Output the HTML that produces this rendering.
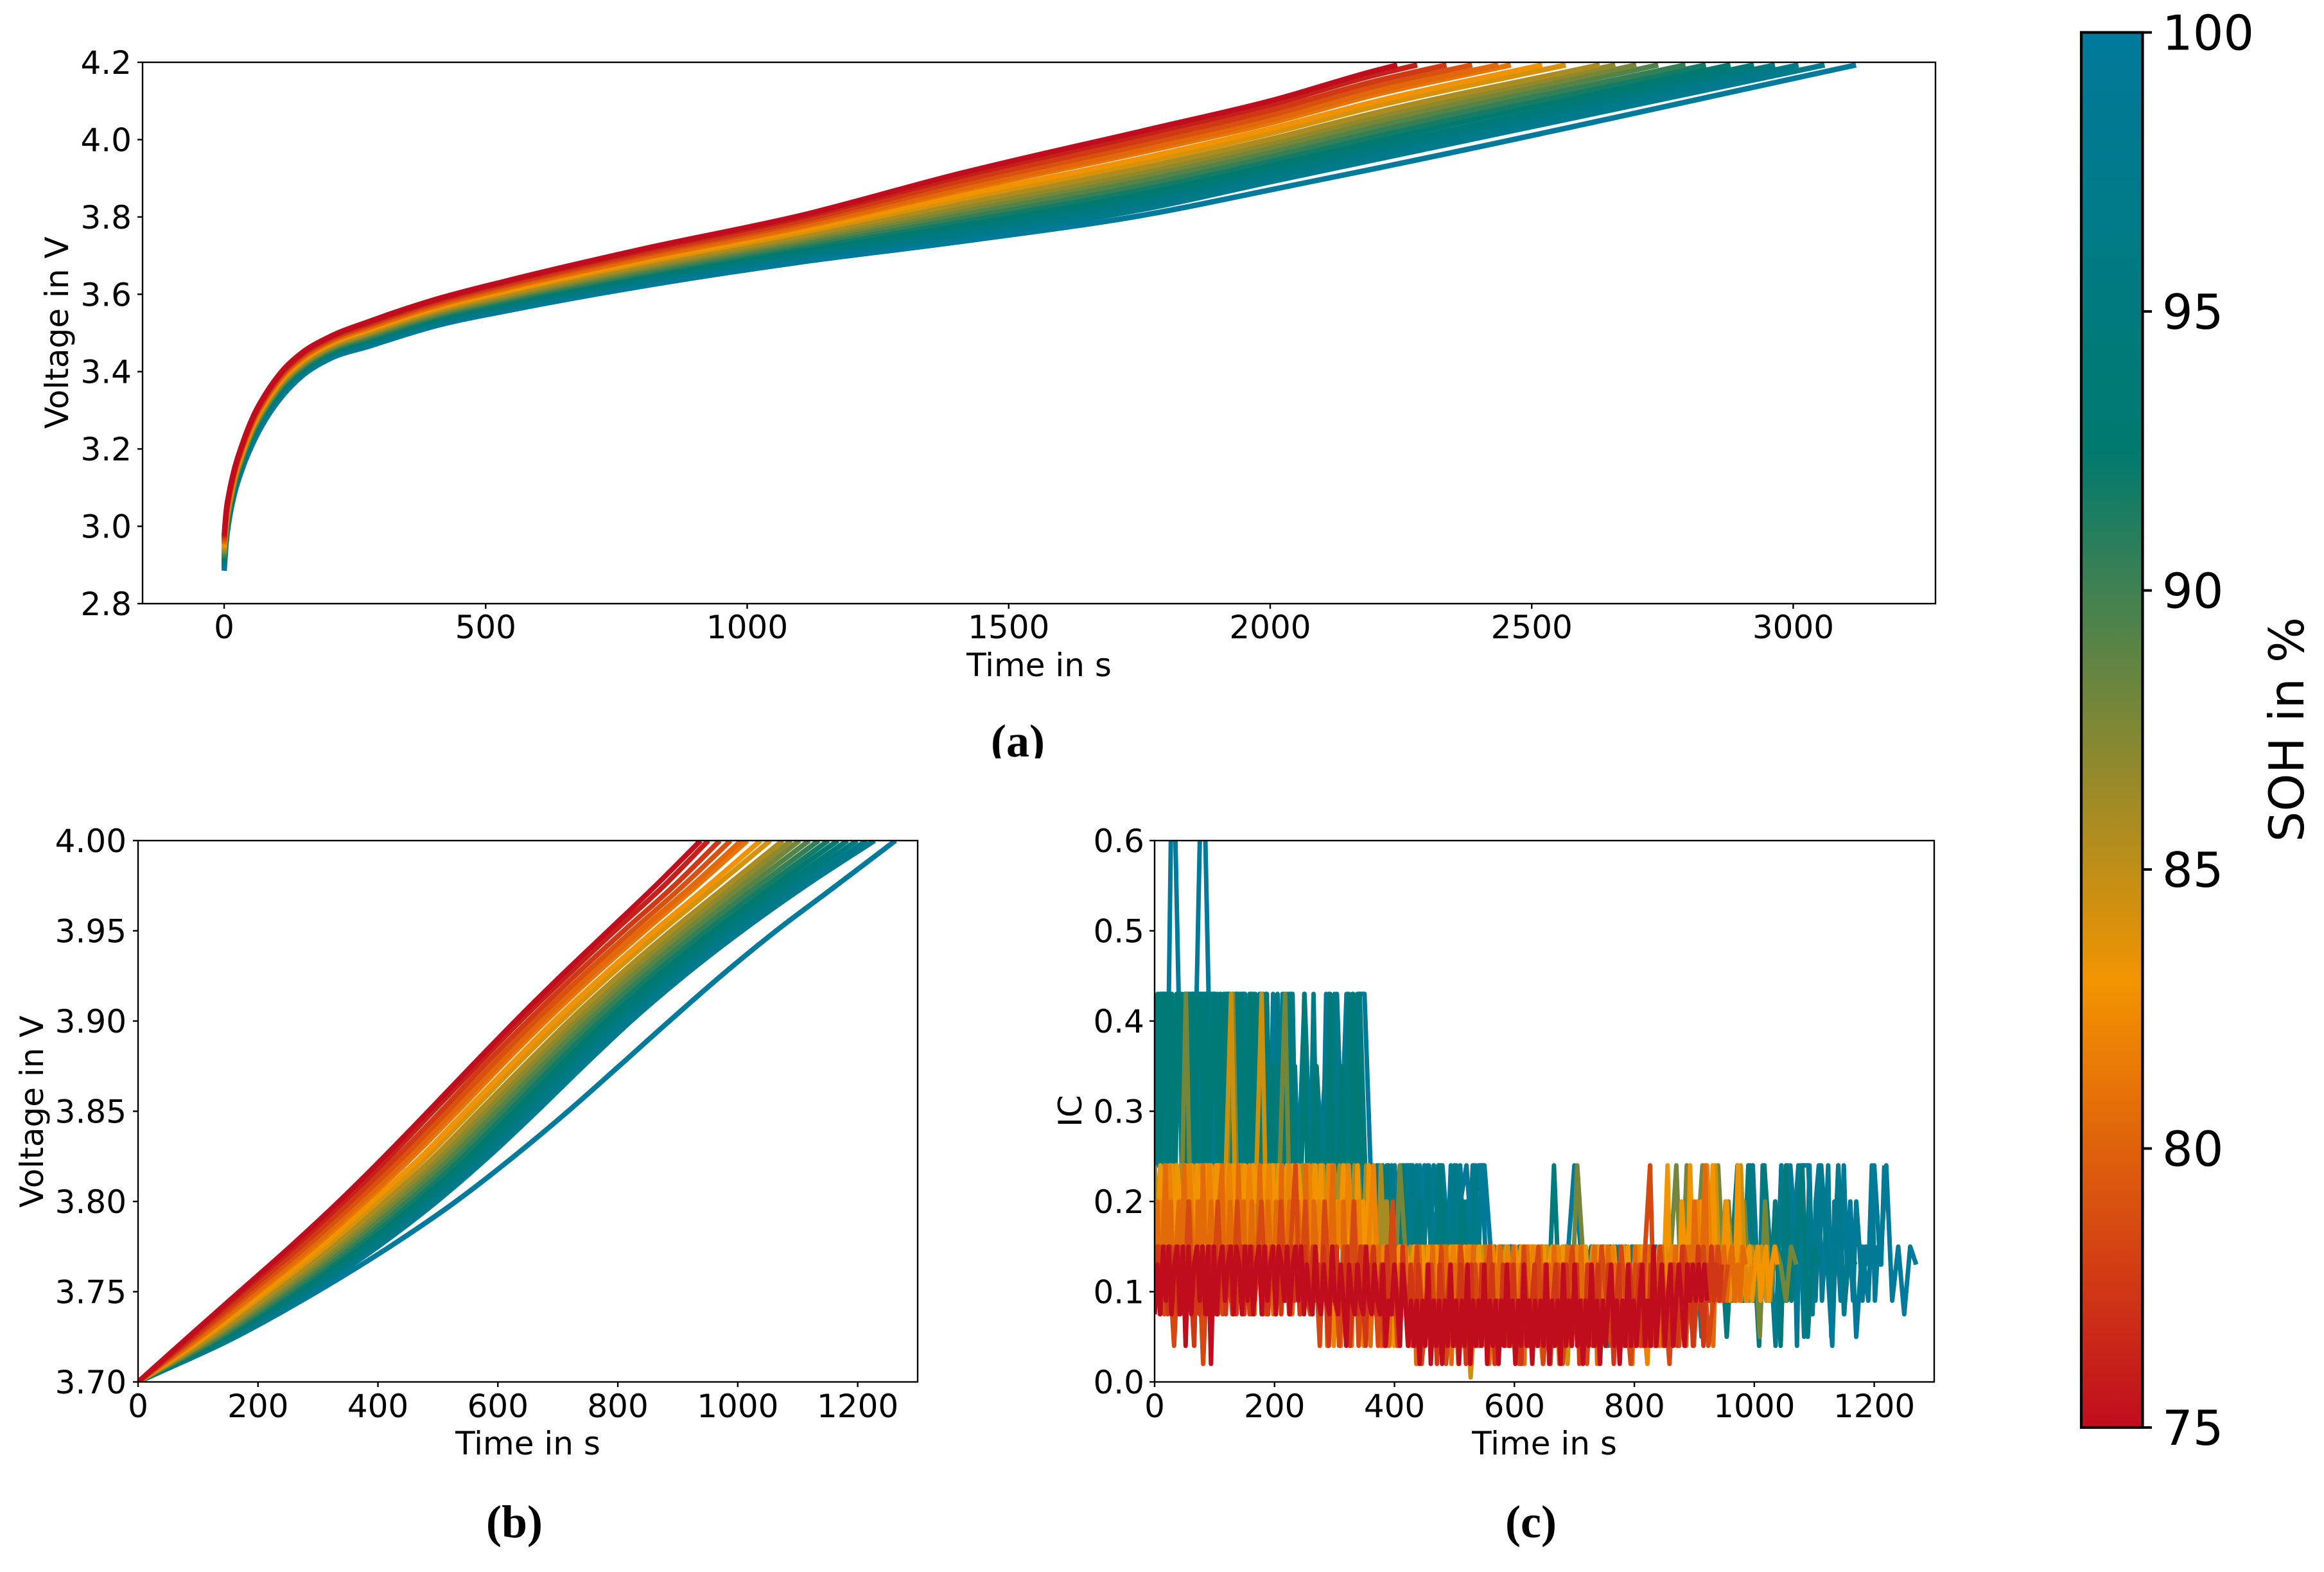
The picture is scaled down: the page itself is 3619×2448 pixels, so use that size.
<!DOCTYPE html>
<html lang="en">
<head>
<meta charset="utf-8">
<title>SOH voltage and IC curves</title>
<style>
html,body{margin:0;padding:0;background:#fff;}
svg{display:block;}
text{font-family:"DejaVu Sans",sans-serif;fill:#000;}
.cap{font-family:"Liberation Serif",serif;font-weight:bold;font-size:72px;text-anchor:middle;}
.axl{font-size:50px;text-anchor:middle;}
.frame{fill:none;stroke:#000;stroke-width:2.4;}
</style>
</head>
<body>
<svg xmlns="http://www.w3.org/2000/svg" width="3619" height="2448" viewBox="0 0 3619 2448">
  <defs>
    <clipPath id="clipA"><rect x="222" y="97" width="2792" height="843"/></clipPath>
    <clipPath id="clipB"><rect x="215" y="1309" width="1214" height="843"/></clipPath>
    <clipPath id="clipC"><rect x="1798" y="1309" width="1214" height="843"/></clipPath>
    <clipPath id="clipCaption"><rect x="1500" y="1100" width="200" height="81"/></clipPath>
    <linearGradient id="cbarGradient" x1="0" y1="1" x2="0" y2="0"></linearGradient>
  </defs>
  <rect width="3619" height="2448" fill="#fff"/>

  <g id="panelA">
    <g id="curvesA" clip-path="url(#clipA)"></g>
    <g id="ticksA"></g>
    <rect class="frame" x="222" y="97" width="2792" height="843"/>
    <text class="axl" x="1618" y="1053">Time in s</text>
    <text class="axl" transform="translate(106,518) rotate(-90)">Voltage in V</text>
    <text class="cap" x="1585" y="1178" clip-path="url(#clipCaption)">(a)</text>
  </g>

  <g id="panelB">
    <g id="curvesB" clip-path="url(#clipB)"></g>
    <g id="ticksB"></g>
    <rect class="frame" x="215" y="1309" width="1214" height="843"/>
    <text class="axl" x="822" y="2265">Time in s</text>
    <text class="axl" transform="translate(67,1731) rotate(-90)">Voltage in V</text>
    <text class="cap" x="801" y="2394">(b)</text>
  </g>

  <g id="panelC">
    <g id="curvesC" clip-path="url(#clipC)"></g>
    <g id="ticksC"></g>
    <rect class="frame" x="1798" y="1309" width="1214" height="843"/>
    <text class="axl" x="2405" y="2265">Time in s</text>
    <text class="axl" transform="translate(1684,1730) rotate(-90)">IC</text>
    <text class="cap" x="2384" y="2394">(c)</text>
  </g>

  <g id="colorbar">
    <rect x="3241" y="50.5" width="95.5" height="2172.5" fill="url(#cbarGradient)" stroke="#000" stroke-width="4.2"/>
    <g id="ticksBar"></g>
    <text transform="translate(3587,1136) rotate(-90)" font-size="75" text-anchor="middle">SOH in %</text>
  </g>
</svg>

<script>
// ---------- Colour scale ----------
const cmapSoh = [75, 83, 92.5, 100];
const cmapRgb = [[192,13,30],[242,148,0],[0,122,110],[0,122,155]];

// ---------- Shared series ----------
const sohValues = [75,76.1,77.6,79,80.4,81.2,82.9,84.1,85.8,86.9,88,89.3,90.5,91.8,93,94.3,95.5,96.8,97.8,100];

// ---------- Panel (a) ----------
const xTicksA = ['0','500','1000','1500','2000','2500','3000'];
const yTicksA = ['2.8','3.0','3.2','3.4','3.6','3.8','4.0','4.2'];
const timeGridA = [0,4,10,20,35,55,80,110,150,200,280,400,550,800,1100,1400,1780,2000,2200];
const endTimesA = [2243,2281,2337,2386,2436,2460,2520,2565,2630,2660,2700,2742,2794,2833,2880,2925,2965,3010,3060,3120];
const endVoltageA = 4.193;
const voltagesA = [
[2.975,3.04,3.09,3.15,3.214,3.283,3.344,3.40,3.45,3.489,3.531,3.585,3.638,3.717,3.803,3.91,4.03,4.10,4.178],
[2.971,3.037,3.087,3.147,3.212,3.28,3.341,3.397,3.447,3.487,3.528,3.582,3.635,3.713,3.798,3.902,4.02,4.09,4.167],
[2.966,3.032,3.083,3.144,3.208,3.277,3.338,3.394,3.444,3.483,3.524,3.578,3.63,3.707,3.79,3.891,4.006,4.076,4.151],
[2.961,3.027,3.079,3.14,3.205,3.273,3.334,3.39,3.44,3.48,3.521,3.574,3.626,3.702,3.784,3.881,3.994,4.063,4.138],
[2.956,3.023,3.075,3.137,3.202,3.27,3.331,3.387,3.437,3.477,3.517,3.57,3.621,3.696,3.777,3.871,3.982,4.051,4.124],
[2.953,3.02,3.073,3.135,3.2,3.268,3.329,3.385,3.435,3.475,3.515,3.568,3.619,3.693,3.773,3.866,3.975,4.043,4.116],
[2.947,3.015,3.068,3.131,3.196,3.264,3.325,3.381,3.431,3.471,3.511,3.564,3.613,3.687,3.765,3.853,3.959,4.028,4.098],
[2.942,3.011,3.064,3.128,3.193,3.261,3.322,3.378,3.428,3.469,3.508,3.56,3.61,3.682,3.759,3.844,3.948,4.016,4.086],
[2.936,3.006,3.06,3.124,3.189,3.257,3.318,3.374,3.424,3.465,3.503,3.556,3.604,3.676,3.751,3.833,3.934,4.001,4.069],
[2.932,3.002,3.057,3.121,3.186,3.254,3.315,3.371,3.421,3.462,3.501,3.553,3.601,3.671,3.746,3.824,3.924,3.991,4.058],
[2.928,2.998,3.054,3.119,3.184,3.252,3.313,3.369,3.419,3.46,3.498,3.55,3.597,3.667,3.741,3.816,3.914,3.98,4.046],
[2.924,2.994,3.05,3.116,3.181,3.249,3.31,3.366,3.416,3.457,3.495,3.546,3.594,3.662,3.735,3.807,3.902,3.969,4.034],
[2.919,2.99,3.047,3.113,3.178,3.246,3.307,3.363,3.413,3.454,3.491,3.543,3.59,3.657,3.729,3.798,3.891,3.957,4.021],
[2.915,2.986,3.043,3.11,3.175,3.243,3.304,3.36,3.41,3.451,3.488,3.539,3.586,3.653,3.723,3.789,3.88,3.946,4.008],
[2.91,2.982,3.04,3.107,3.172,3.24,3.301,3.357,3.407,3.449,3.485,3.536,3.582,3.648,3.717,3.78,3.869,3.934,3.996],
[2.906,2.978,3.036,3.104,3.169,3.237,3.298,3.354,3.404,3.446,3.482,3.533,3.578,3.643,3.711,3.771,3.858,3.923,3.983],
[2.901,2.974,3.033,3.101,3.166,3.234,3.295,3.351,3.401,3.443,3.479,3.529,3.574,3.638,3.705,3.762,3.846,3.911,3.971],
[2.897,2.97,3.029,3.098,3.164,3.231,3.292,3.348,3.398,3.44,3.475,3.526,3.57,3.633,3.699,3.753,3.835,3.9,3.958],
[2.893,2.967,3.026,3.095,3.161,3.228,3.289,3.345,3.395,3.438,3.473,3.523,3.567,3.63,3.694,3.746,3.826,3.891,3.948],
[2.885,2.96,3.02,3.085,3.15,3.215,3.278,3.335,3.39,3.432,3.467,3.517,3.56,3.621,3.683,3.735,3.81,3.87,3.925]
];

// ---------- Panel (b) ----------
const xTicksB = ['0','200','400','600','800','1000','1200'];
const yTicksB = ['3.70','3.75','3.80','3.85','3.90','3.95','4.00'];
const voltageLevelsB = [3.70,3.725,3.75,3.775,3.80,3.825,3.85,3.875,3.90,3.925,3.95,3.975,4.00];
const timesB = [
[0,84,169,254,335,411,484,556,629,705,784,863,938],
[0,88,174,261,343,420,492,564,637,715,795,877,951],
[0,93,182,271,354,432,505,576,650,728,810,894,970],
[0,97,189,280,364,443,516,588,662,741,824,909,988],
[0,102,196,288,373,453,526,599,673,753,837,924,1006],
[0,105,201,294,379,459,533,605,680,760,845,932,1016],
[0,110,210,305,391,473,546,619,694,775,861,951,1038],
[0,114,216,313,400,482,556,629,705,786,873,964,1054],
[0,120,225,323,412,495,569,643,719,801,889,982,1075],
[0,124,231,330,420,503,578,652,728,811,900,994,1089],
[0,127,237,337,428,512,587,661,738,821,911,1007,1103],
[0,132,243,345,437,522,597,671,748,832,923,1020,1119],
[0,136,250,353,446,531,607,681,759,843,935,1034,1135],
[0,140,256,361,455,541,616,691,769,854,947,1048,1151],
[0,144,263,369,464,550,626,701,780,866,959,1061,1167],
[0,148,270,378,473,560,636,712,790,877,971,1075,1183],
[0,152,276,386,482,570,646,722,801,888,983,1088,1199],
[0,157,283,394,491,579,656,732,812,899,995,1102,1215],
[0,160,288,400,498,585,665,742,822,910,1007,1113,1228],
[0,163,298,420,530,627,717,802,886,972,1064,1164,1263]
];

// ---------- Panel (c) ----------
const xTicksC = ['0','200','400','600','800','1000','1200'];
const yTicksC = ['0.0','0.1','0.2','0.3','0.4','0.5','0.6'];
const icSoh = [100,99,97.5,96.5,95,94,88,86,84.5,83,82,80.5,78.5,77.5,75];
const icStepSeconds = [10,5.2,9.5,5,9,4.8,8.7,4.9,8.5,4.7,8.3,4.5,8.1,4.4,4.7];
const icValues100 = [.35,.43,.24,.75,.43,.24,.43,.43,.75,.43,.24,.43,.24,.43,.35,.24,.43,.24,.43,.24,.35,.24,.43,.15,.24,.43,.24,.35,.24,.43,.15,.24,.43,.24,.43,.43,
.24,.15,.24,.2,.24,.15,.24,.24,.15,.24,.2,.15,.24,.15,.24,.2,.24,.15,.24,.24,
.15,.13,.09,.15,.09,.15,.13,.09,.15,.09,.13,.15,.09,.15,.24,.15,.09,.15,.13,.09,
.15,.09,.15,.13,.09,.15,.09,.15,.13,.09,.15,.09,.15,.13,.09,.15,.13,.09,.15,.09,.15,.13,.09,.15,.09,.15,.09,.13,.15,.09,.24,.15,.24,
.24,.09,.24,.15,.04,.24,.075,.2,.05,.15,.09,.24,.13,.24,.09,.15,.075,.15,.13];
const icValues99 = [.24,.43,.24,.43,.35,.43,.24,.43,.43,.24,.35,.43,.24,.43,.24,.43,.43,.24,.43,.35,.24,.43,.24,.43,.24,.43,.35,.24,.43,.43,.24,.43,.24,.35,.43,.24,.43,.24,.43,.35,.24,.43,.24,.43,
.24,.35,.24,.24,.43,.24,.24,.35,.24,.15,.24,.43,.24,.2,.24,.35,.24,.24,.43,.24,.24,.43,.24,
.2,.24,.15,.24,.15,.24,.2,.15,.24,.15,.24,.15,.2,.24,.15,.24,.15,.15,.24,.15,.2,.24,.15,.15,.24,.15,.2,.15,.24,.15,.15,.24,.15,.2,.15,.24,.15,.15,.24,.15,
.15,.13,.15,.09,.15,.13,.09,.15,.15,.09,.13,.15,.09,.15,.13,.15,.09,.15,.13,.09,.15,.09,.15,.13,.15,.09,.15,.13,.09,.15,.15,.09,.13,.15,.09,.15,.13,.15,.09,.15,.13,.09,.15,.09,.15,.13,.15,.09,.15,.13,.09,.15,.15,.09,.13,.15,.09,.15,.13,.15,.09,.15,.13,.09,.15,.09,.15,.13,.15,.09,.15,.13,.09,.15,.15,.09,.13,.15,.09,.15,.13,.15,.09,.15,.24,.09,.15,.09,.24,.13,.15,.09,.2,.15,
.24,.09,.24,.15,.2,.04,.24,.15,.09,.24,.075,.2,.24,.09,.15,.24,.05,.2,.15,.09,.24,.13,.15,.09,.2,.15,.09,.15,.13,.24,.09,.15,.13,.24];
const icValues97 = [.43,.24,.43,.24,.43,.24,.43,.35,.24,.43,.24,.43,.24,.43,.24,.43,.24,.35,.24,.43,.24,.35,.15,.24,.43,.24,.35,.24,.15,.24,.35,.24,.43,.24,.35,.24,.15,
.24,.15,.24,.15,.24,.2,.09,.24,.15,.24,.15,.09,.24,.15,.2,.09,.24,.15,.09,.24,.15,.09,
.15,.09,.15,.09,.13,.15,.09,.15,.05,.15,.09,.15,.09,.13,.15,.09,.15,.05,.15,.09,.15,.09,.15,.09,.13,.15,.05,.15,.09,.15,.09,.15,.09,.13,.15,.09,.15,.05,.15,.09,.15,.09,.15,.09,.13,.15,
.24,.09,.24,.15,.04,.24,.09,.15,.24,.05,.2,.09,.24,.15,.09,.24,.075,.15,.13];
const icValues95 = [.43,.24,.43,.43,.24,.43,.35,.24,.43,.24,.43,.43,.24,.43,.35,.43,.24,.43,.24,.43,.43,.24,.35,.43,.24,.43,.24,.43,.43,.24,.43,.35,.24,.43,.24,.43,.24,.43,.24,.35,
.24,.43,.24,.24,.35,.24,.43,.24,.15,.24,.35,.24,.24,.43,.24,.2,.24,.35,.24,.24,.43,.24,.15,.24,.35,.24,.43,.24,.43,.24,
.24,.15,.2,.24,.09,.15,.24,.2,.15,.24,.15,.09,.24,.15,.2,.15,.24,.09,.15,.2,.15,.24,.15,.09,.15,.24,.15,.2,.09,.15,.24,.15,.09,.2,.15,.09,.15,.24,.15,.09,.15,.09];
const icValues93 = [.24,.43,.24,.43,.35,.43,.24,.43,.24,.35,.24,.43,.24,.43,.24,.43,.35,.24,.43,.24,.43,.15,.24,.35,.24,.43,.15,.24,.2,.24,.35,.15,.24,.2,.15,.24,.43,.24,.43,
.24,.15,.2,.15,.24,.09,.15,.24,.09,.15,.2,.09,.15,.09,.24,.09,.15,.09,.2,.09,.15,.09,
.15,.09,.13,.15,.09,.15,.09,.15,.04,.15,.09,.15,.09,.24,.09,.15,.05,.15,.09,.13,.15,.09,.15,.04,.15,.09,.15,.09,.13,.15,.04,.15,.09,.15,.09,.15,.05,.15,.09,.15,.09,.13,.15,.09,.15,.05,.15,
.24,.09,.24,.15,.04,.24,.09,.2,.04,.24,.09,.15,.24,.05,.15,.13];
const icValues91 = [.24,.43,.24,.43,.43,.24,.43,.24,.43,.35,.24,.43,.24,.43,.24,.43,.43,.24,.43,.24,.35,.43,.24,.43,.24,.43,.43,.24,.43,.24,.43,.35,.24,.43,.24,.43,.24,.35,.24,.43,.24,.35,.24,.15,.24,.43,.24,.24,.35,.24,.15,.24,.43,.24,.2,.24,.35,.24,.24,.15,.24,.43,.24,.2,.24,.35,.24,.15,.24,.43,.24,.35,.24];
const icValues88 = [.24,.15,.24,.2,.24,.15,.43,.15,.24,.15,.24,.2,.24,.15,.24,.43,.15,.24,.2,.24,.15,.24,.15,.2,.24,.43,.15,.24,.15,.24,.2,.15,.24,.15,.24,.2,.15,.24,.15,.24,
.15,.24,.15,.09,.2,.15,.09,.24,.15,.09,.15,.09,.15,.09,.15,.04,.15,.09,.15,.09,.15,.05,.15,.09,
.15,.09,.13,.15,.09,.15,.04,.15,.09,.15,.09,.15,.09,.15,.02,.15,.09,.24,.15,.09,.15,.04,.15,.09,.15,.09,.15,.09,.13,.15,.05,.15,.09,.15,.09,.15,.24,.09,.24,.09,.15,.24,
.09,.15,.24,.13,.2,.09,.15,.2,.09,.15,.05,.2,.09,.15,.13,.09,.15,.13];
const icValues86 = [.24,.15,.24,.2,.15,.24,.2,.24,.15,.24,.24,.15,.2,.24,.15,.24,.2,.15,.24,.24,.15,.24,.2,.15,.24,.15,.24,.2,.24,.15,.24,.15,.2,.24,.24,.15,.24,.2,.15,.24,.15,.24,.24,.2,.15,.24,.15,.2,.24,.15,.24,.24,.15,.2,.24,.15,.24,.2,.15,.24,.15,.24,.2,.24,.15,.24,.2,.15,.24,.15,.2,
.15,.24,.09,.2,.15,.09,.24,.15,.2,.09,.15,.13,.09,.15,.09,.13,.15,.09,.15,.13,.09,.15,.09,.15,.13,.09,.15,.09,.15,.04,.13,.15,.09,.15,.09,.13,.15,.09,.15,.09,.13,.15,.09];
const icValues84 = [.2,.15,.24,.15,.24,.2,.15,.24,.15,.24,.2,.15,.24,.15,.24,.43,.15,.24,.2,.15,.24,.43,.15,.24,.15,.24,.2,.15,.24,.15,.2,.24,.15,.24,.09,.2,.15,.24,.15,.09,.2,.15,
.13,.2,.09,.15,.04,.13,.15,.09,.13,.15,.05,.13,.09,.15,.09,.13,.04,.15,.09,.13,.005,.09,.15,.04,
.15,.09,.13,.15,.04,.13,.15,.09,.15,.09,.13,.15,.09,.13,.15,.02,.15,.09,.15,.09,.13,.15,.09,.13,.15,.09,.15,.04,.13,.15,.09,.15,.09,.13,.15,.04,.15,.09,.13,.15,.09,.15,.13,.09,
.24,.09,.2,.15,.09,.24,.09,.15,.13,.15,.09,.13];
const icValues83 = [.2,.15,.24,.15,.24,.2,.24,.15,.24,.2,.15,.24,.2,.24,.13,.24,.2,.15,.24,.2,.24,.15,.24,.24,.15,.2,.24,.13,.24,.2,.24,.15,.24,.2,.15,.24,.2,.24,.15,.24,.15,.2,.24,.13,.24,.2,.15,.24,.2,.24,.15,.24,.2,.15,.24,.09,.2,.24,.15,.24,.13,.2,.15,.24,.09,.2,.15,.24,.13,.2,.15,.09,.24,.15,.2,.09,.24,.15,.09,
.15,.09,.13,.15,.09,.15,.04,.13,.15,.09,.15,.13,.09,.15,.09,.13,.15,.05,.15,.09,.13,.15,.09,.15,.13,.09,.15,.04,.15,.09,.13,.15,.09,.15,.13,.09,.15,.09,.13,.15,.04,.15,.09,.15,.13,.09,.15,.09,.13,.15,.09,.15,.04,.13,.15,.09,.15,.13,.09,.15,.09,.13,.15,.09,.15,.02,.15,.09,.13,.15,.09,.15,.13,.09,.15,.09,.13,.15,.04,.15,.09,.15,.13,.09,.15,.09,.13,.15,.09,.15,.04,.13,.15,.09,.15,.13,.09,.15,.09,.13,.15,.09,.15,.24,.09,.15,.13,.09,.2,.15,.09,.24,.13,.15,.09,.2,.15,.13,.09,.24,.15,.09,.13,.15,.2,.09,.15,.13,.24,.09,.15,.13,.15,.09,.13,.15,.09,.13,.15,.09,.13,.15,.13];
const icValues81 = [.13,.2,.13,.24,.09,.2,.15,.24,.13,.2,.09,.24,.13,.2,.15,.24,.13,.2,.09,.24,.13,.2,.15,.24,.09,.2,.13,.24,.15,.2,.09,.24,.13,.2,.09,.24,.04,.2,.13,.24,.09,.2,.04,.15,
.24,.09,.15,.04,.13,.09,.15,.04,.13,.15,.04,.09,.15,.04,.13,.09,.15,.02,.09,.15,.04,.13,.09,.04,
.15,.04,.09,.15,.04,.13,.09,.04,.15,.09,.02,.13,.04,.15,.09,.04,.13,.15,.02,.09,.15,.04,.13,.09,.15,.04,.09,.13,.04,.15,.09,.02,.15,.09,.04,.13,.15,.04,.09,.15,
.09,.2,.09,.24,.09,.15,.09,.13,.15,.09,.15,.09,.13];
const icValues79 = [.13,.2,.09,.15,.24,.13,.2,.075,.15,.2,.13,.24,.09,.2,.15,.075,.2,.13,.24,.09,.15,.2,.075,.13,.2,.24,.09,.15,.2,.13,.075,.24,.15,.2,.09,.13,.2,.075,.15,.24,.13,.09,.2,.15,.075,.2,.13,.24,.09,.15,.2,.075,.13,.2,.15,.09,.24,.13,.075,.2,.15,.09,.13,.2,.04,.15,.24,.09,.13,.04,.2,.09,.15,.04,.2,.13,.09,.15,
.09,.15,.04,.13,.09,.15,.04,.09,.13,.04,.15,.09,.04,.13,.09,.15,.04,.09,.13,.02,.15,.09,.04,.13,.09,.15,.04,.09,.13,.04,.15,.09,.02,.13,.09,.15,.04,.09,.13,.04,.15,.09,.04,.13,.09,.15,.02,.09,.13,.04,.15,.09,.04,.13,.09,.15,.04,.09,.13,.02,.15,.09,.04,.13,.09,.15,.04,.09,.13,.04,.15,.09,.02,.13,.09,.15,.04,.09,.13,.04,.15,.09,.04,.13,.09,.15,.02,.09,.13,.04,.15,.09,.04,.13,.09,.15,.04,.09,.13,.02,.15,.09,.04,.13,.09,.15,.04,.09,.13,.04,.15,.09,.04,.13,.09,.15,.04,.09,.13,.04,.15,.09,.2,.13,.09,.15,.24,.09,.13,.04,.15,.09,.13,.15,.09,.13,.15,.09,.13,.09,.15,.13];
const icValues77 = [.075,.15,.075,.13,.04,.15,.075,.2,.075,.15,.02,.15,.09,.2,.075,.15,.075,.2,.075,.15,.075,.13,.2,.075,.15,.075,.2,.09,.15,.24,.075,.2,
.075,.15,.04,.2,.09,.15,.04,.15,.075,.2,.04,.15,.09,.15,.04,.13,.09,.2,.04,.13,
.09,.04,.15,.02,.09,.13,.04,.15,.02,.09,.04,.15,.09,.02,.13,.04,.09,.15,.02,.09,.04,.13,.09,.02,.15,.04,.09,.15,.02,.09,.04,.13,.02,.09,.15,.04,.09,.02,.13,.04,.15,.09,.04,.04,.15,.09,.02,.13,.04,.15,.24,.04,.15,.09,.02,.13,.04,.15,.09,.04,.13,.15,.04,.09,.15,.09,.13];
const icValues76 = [.075,.15,.075,.13,.15,.075,.15,.09,.15,.075,.13,.15,.075,.15,.09,.04,.15,.075,.15,.13,.075,.15,.09,.15,.075,.13,.15,.075,.15,.09,.15,.075,.13,.15,.075,.15,.075,.15,.09,.13,.15,.075,.15,.075,.13,.15,.09,.15,.075,.15,.13,.075,.15,.09,.15,.075,.13,
.15,.09,.075,.15,.09,.13,.075,.15,.09,.04,.13,.09,.15,.075,.13,.09,.15,.04,.09,.13,.075,.15,.09,.04,.13,.09,.15,.075,.09,.13,.04,.15,.09,.075,.13,.09,.04,.15,.09,.04,.13,
.09,.04,.13,.09,.04,.09,.13,.04,.09,.02,.13,.09,.04,.09,.13,.04,.09,.04,.13,.09,.02,.09,.13,.04,.09,.04,.13,.09,.04,.09,.13,.02,.09,.04,.13,.09,.04,.09,.13,.04,.09,.02,.13,.09,.04,.09,.13,.04,.09,.04,.13,.09,.02,.09,.13,.04,.09,.04,.13,.09,.04,.09,.13,.02,.09,.04,.13,.09,.04,.09,.13,.04,.09,.04,.13,.09,.02,.09,.13,.04,.09,.04,.13,.09,.04,.09,.13,.04,.09,.04,.13,.09,.04,.09,.13,.04,.09,.04,.13,.09,.04,.09,.15,.04,.09,.13,.04,.09,.15,.09,.04,.13,.09,.15,.09,.13,.09,.13];
const icValues75 = [.075,.13,.075,.15,.09,.15,.075,.13,.15,.075,.15,.04,.15,.075,.13,.15,.09,.15,.075,.15,.02,.15,.075,.13,.15,.09,.13,.15,.075,.15,.13,.075,.15,.09,.15,.075,.13,.15,.075,.15,.09,.13,.15,.075,.15,.13,.09,.15,.075,.13,.15,.09,.15,.075,.13,
.09,.075,.15,.09,.075,.13,.09,.075,.15,.09,.075,.13,.09,.04,.13,.09,.075,.13,.09,.075,.15,.09,.075,.13,.09,.075,.13,.04,.09,.075,.13,.09,.04,.13,.09,.04,
.09,.04,.09,.02,.09,.04,.13,.02,.09,.04,.09,.02,.09,.04,.13,.04,.09,.02,.09,.04,.13,.02,.09,.04,.09,.04,.13,.02,.09,.04,.09,.02,.09,.04,.13,.04,.09,.02,.09,.04,.13,.04,.09,.02,.09,.04,.09,.04,.13,.02,.09,.04,.09,.02,.13,.04,.09,.04,.13,.04,.09,.02,.09,.04,.13,.04,.09,.02,.09,.04,.09,.13,.04,.09,.02,.09,.04,.13,.04,.09,.04,.09,.13,.04,.09,.04,.15,.04,.09,.13,.04,.09,.13,.04,.09,.13,.09,.04,.13,.09,.13,.09,.13,.09,.13,.09];
const icSeries = [icValues100,icValues99,icValues97,icValues95,icValues93,icValues91,icValues88,icValues86,icValues84,icValues83,icValues81,icValues79,icValues77,icValues76,icValues75];

// ---------- Colorbar ----------
const barTicks = ['75','80','85','90','95','100'];

// ---------- Helpers ----------
const SVGNS = 'http://www.w3.org/2000/svg';
function linear(d0, d1, r0, r1) { return v => r0 + (v - d0) * (r1 - r0) / (d1 - d0); }
function sohColor(s) {
  let k = 0;
  while (k < cmapSoh.length - 2 && s > cmapSoh[k + 1]) k++;
  const f = Math.max(0, Math.min(1, (s - cmapSoh[k]) / (cmapSoh[k + 1] - cmapSoh[k])));
  const c = cmapRgb[k].map((a, j) => Math.round(a + (cmapRgb[k + 1][j] - a) * f));
  return 'rgb(' + c.join(',') + ')';
}
function smoothPath(pts) {
  const n = pts.length, m = [], sl = [], hs = [];
  for (let i = 0; i < n - 1; i++) {
    hs.push(pts[i + 1][0] - pts[i][0]);
    sl.push((pts[i + 1][1] - pts[i][1]) / hs[i]);
  }
  m[0] = sl[0]; m[n - 1] = sl[n - 2];
  for (let i = 1; i < n - 1; i++) {
    const p = (sl[i - 1] * hs[i] + sl[i] * hs[i - 1]) / (hs[i - 1] + hs[i]);
    const limit = 3 * Math.min(Math.abs(sl[i - 1]), Math.abs(sl[i]));
    m[i] = sl[i - 1] * sl[i] <= 0 ? 0 : Math.sign(p) * Math.min(Math.abs(p), limit);
  }
  let d = 'M' + pts[0][0].toFixed(1) + ' ' + pts[0][1].toFixed(1);
  for (let i = 0; i < n - 1; i++) {
    const h = hs[i] / 3;
    d += 'C' + (pts[i][0] + h).toFixed(1) + ' ' + (pts[i][1] + m[i] * h).toFixed(1) + ' ' +
         (pts[i + 1][0] - h).toFixed(1) + ' ' + (pts[i + 1][1] - m[i + 1] * h).toFixed(1) + ' ' +
         pts[i + 1][0].toFixed(1) + ' ' + pts[i + 1][1].toFixed(1);
  }
  return d;
}
function drawXTicks(parent, labels, xFn, yBase, labelY) {
  labels.forEach(label => {
    const x = xFn(Number(label));
    const tick = document.createElementNS(SVGNS, 'line');
    tick.setAttribute('x1', x); tick.setAttribute('x2', x);
    tick.setAttribute('y1', yBase); tick.setAttribute('y2', yBase + 8);
    tick.setAttribute('stroke', '#000'); tick.setAttribute('stroke-width', 2.4);
    
    
    parent.appendChild(tick);
    const text = document.createElementNS(SVGNS, 'text');
    text.setAttribute('x', x); text.setAttribute('y', labelY);
    text.setAttribute('font-size', 50); text.setAttribute('text-anchor', 'middle');
    text.textContent = label;
    
    
    parent.appendChild(text);
  });
}
function drawYTicks(parent, labels, yFn, xBase, labelX) {
  labels.forEach(label => {
    const y = yFn(Number(label));
    const tick = document.createElementNS(SVGNS, 'line');
    tick.setAttribute('x1', xBase - 8); tick.setAttribute('x2', xBase);
    tick.setAttribute('y1', y); tick.setAttribute('y2', y);
    tick.setAttribute('stroke', '#000'); tick.setAttribute('stroke-width', 2.4);
    
    
    parent.appendChild(tick);
    const text = document.createElementNS(SVGNS, 'text');
    text.setAttribute('x', labelX); text.setAttribute('y', y + 18);
    text.setAttribute('font-size', 50); text.setAttribute('text-anchor', 'end');
    text.textContent = label;
    
    
    parent.appendChild(text);
  });
}

// ---------- Axis functions ----------
const xA = linear(-156, 3272, 222, 3014), yA = linear(2.8, 4.2, 940, 97);
const xB = linear(0, 1300, 215, 1429),    yB = linear(3.7, 4.0, 2152, 1309);
const xC = linear(0, 1300, 1798, 3012),   yC = linear(0, 0.6, 2152, 1309);
const yBar = linear(75, 100, 2223, 50.5);

// ---------- Panel (a) curves (healthy first, degraded on top) ----------
for (let i = sohValues.length - 1; i >= 0; i--) {
  const pts = voltagesA[i].map((v, j) => [xA(timeGridA[j]), yA(v)]);
  pts.push([xA(endTimesA[i]), yA(endVoltageA)]);
  const line = document.createElementNS(SVGNS, 'path');
  line.setAttribute('d', smoothPath(pts));
  line.setAttribute('fill', 'none');
  line.setAttribute('stroke', sohColor(sohValues[i]));
  line.setAttribute('stroke-width', 8.4);
  line.setAttribute('stroke-linejoin', 'round');
  
  
  document.getElementById('curvesA').appendChild(line);
}

// ---------- Panel (b) curves ----------
for (let i = sohValues.length - 1; i >= 0; i--) {
  const pts = timesB[i].map((t, j) => [xB(t), yB(voltageLevelsB[j])]);
  const line = document.createElementNS(SVGNS, 'path');
  line.setAttribute('d', smoothPath(pts));
  line.setAttribute('fill', 'none');
  line.setAttribute('stroke', sohColor(sohValues[i]));
  line.setAttribute('stroke-width', 8);
  line.setAttribute('stroke-linejoin', 'round');
  
  
  document.getElementById('curvesB').appendChild(line);
}

// ---------- Panel (c) curves ----------
icSeries.forEach((values, i) => {
  const d = values.map((v, j) => (j ? 'L' : 'M') + xC(j * icStepSeconds[i]).toFixed(1) + ' ' + yC(v).toFixed(1)).join('');
  const line = document.createElementNS(SVGNS, 'path');
  line.setAttribute('d', d);
  line.setAttribute('fill', 'none');
  line.setAttribute('stroke', sohColor(icSoh[i]));
  line.setAttribute('stroke-width', 7);
  line.setAttribute('stroke-linejoin', 'round');
  
  
  document.getElementById('curvesC').appendChild(line);
});

// ---------- Ticks ----------
drawXTicks(document.getElementById('ticksA'), xTicksA, xA, 940, 994);
drawYTicks(document.getElementById('ticksA'), yTicksA, yA, 222, 205);
drawXTicks(document.getElementById('ticksB'), xTicksB, xB, 2152, 2207);
drawYTicks(document.getElementById('ticksB'), yTicksB, yB, 215, 197);
drawXTicks(document.getElementById('ticksC'), xTicksC, xC, 2152, 2207);
drawYTicks(document.getElementById('ticksC'), yTicksC, yC, 1798, 1782);

// ---------- Colorbar ----------
for (let s = 0; s <= 25; s += 0.5) {
  const stop = document.createElementNS(SVGNS, 'stop');
  stop.setAttribute('offset', (s / 25).toFixed(3));
  stop.setAttribute('stop-color', sohColor(75 + s));
  document.getElementById('cbarGradient').appendChild(stop);
}
barTicks.forEach(label => {
  const y = yBar(Number(label));
  const tick = document.createElementNS(SVGNS, 'line');
  tick.setAttribute('x1', 3336); tick.setAttribute('x2', 3351);
  tick.setAttribute('y1', y); tick.setAttribute('y2', y);
  tick.setAttribute('stroke', '#000'); tick.setAttribute('stroke-width', 4);
  
  
  document.getElementById('ticksBar').appendChild(tick);
  const text = document.createElementNS(SVGNS, 'text');
  text.setAttribute('x', 3367); text.setAttribute('y', y + 27);
  text.setAttribute('font-size', 75);
  text.textContent = label;
  
  
  document.getElementById('ticksBar').appendChild(text);
});
</script>
</body>
</html>
